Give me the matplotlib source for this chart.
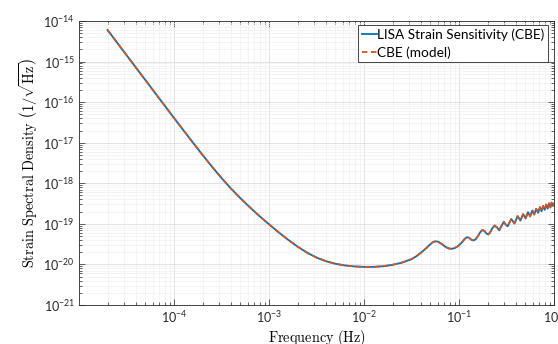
import numpy as np
import matplotlib
matplotlib.use("Agg")
import matplotlib.pyplot as plt
from matplotlib.ticker import LogLocator, NullFormatter, FixedLocator

plt.rcParams['font.family'] = ['Lato', 'DejaVu Sans']
plt.rcParams['mathtext.fontset'] = 'custom'
plt.rcParams['mathtext.rm'] = 'Lato'
plt.rcParams['mathtext.it'] = 'Lato:italic'
plt.rcParams['mathtext.bf'] = 'Lato:bold'

# values (log10 of frequency in Hz, log10 of ASD in 1/sqrt(Hz))
log_freq = [-4.70, -4.60, -4.50, -4.40, -4.30, -4.20, -4.10, -4.00, -3.90, -3.80,
            -3.70, -3.60, -3.50, -3.40, -3.30, -3.20, -3.10, -3.00, -2.90, -2.80,
            -2.70, -2.60, -2.50, -2.40, -2.30, -2.20, -2.10, -2.00, -1.90, -1.80,
            -1.70, -1.60, -1.50, -1.45, -1.40, -1.35, -1.31, -1.28, -1.25, -1.22,
            -1.18, -1.14, -1.11, -1.08, -1.05, -1.01, -0.97, -0.94, -0.917, -0.895,
            -0.87, -0.848, -0.825, -0.80, -0.775, -0.752, -0.73, -0.71, -0.6925, -0.675,
            -0.65, -0.625, -0.60, -0.577, -0.553, -0.529, -0.508, -0.488, -0.450, -0.416,
            -0.383, -0.354, -0.325, -0.299, -0.274, -0.251, -0.228, -0.208, -0.187, -0.167,
            -0.149, -0.131, -0.115, -0.098, -0.0825, -0.067, -0.0526, -0.038, -0.0246, -0.011,
            0.0]
log_asd = [-14.22, -14.53, -14.84, -15.15, -15.46, -15.77, -16.08, -16.39, -16.695, -17.00,
           -17.30, -17.59, -17.87, -18.13, -18.37, -18.595, -18.81, -19.01, -19.205, -19.39,
           -19.56, -19.71, -19.83, -19.92, -19.985, -20.025, -20.05, -20.06, -20.06, -20.045,
           -20.01, -19.955, -19.87, -19.80, -19.71, -19.61, -19.52, -19.46, -19.43, -19.44,
           -19.50, -19.57, -19.605, -19.615, -19.60, -19.55, -19.46, -19.37, -19.33, -19.34,
           -19.39, -19.41, -19.38, -19.30, -19.20, -19.15, -19.18, -19.24, -19.26, -19.22,
           -19.11, -19.04, -19.09, -19.16, -19.05, -18.95, -19.02, -19.06, -18.88, -18.99,
           -18.81, -18.92, -18.76, -18.865, -18.71, -18.815, -18.67, -18.77, -18.63, -18.73,
           -18.59, -18.69, -18.56, -18.655, -18.525, -18.625, -18.495, -18.595, -18.475, -18.56,
           -18.50]

x_tick_values = [1e-4, 1e-3, 1e-2, 1e-1, 1e0]
y_limits = (1e-21, 1e-14)
x_limits = (1e-5, 1e0)
labels = ['LISA Strain Sensitivity (CBE)', 'CBE (model)']

freq = 10.0 ** np.array(log_freq)
asd = 10.0 ** np.array(log_asd)

fig = plt.figure(figsize=(5.58, 3.44), dpi=100)
ax = fig.add_axes([79 / 558, 1 - 305 / 344, (554 - 79) / 558, (305 - 21) / 344])

ax.plot(freq, asd, color='#0072BD', lw=1.3, label=labels[0])
ax.plot(freq, asd, color='#D95319', lw=1.3, ls='--', dashes=(3, 2), label=labels[1])

ax.set_xscale('log')
ax.set_yscale('log')
ax.set_xlim(*x_limits)
ax.set_ylim(*y_limits)
ax.xaxis.set_major_locator(FixedLocator(x_tick_values))
ax.xaxis.set_minor_locator(LogLocator(base=10, subs=np.arange(2, 10), numticks=20))
ax.yaxis.set_major_locator(LogLocator(base=10, numticks=20))
ax.yaxis.set_minor_locator(LogLocator(base=10, subs=np.arange(2, 10), numticks=20))
ax.xaxis.set_minor_formatter(NullFormatter())
ax.yaxis.set_minor_formatter(NullFormatter())

ax.set_axisbelow(True)
ax.grid(True, which='major', color='#dedede', lw=0.6)
ax.grid(True, which='minor', color='#f0f0f0', lw=0.5)

axcol = '#262626'
for s in ax.spines.values():
    s.set_color(axcol)
    s.set_linewidth(0.6)
ax.tick_params(which='both', direction='in', top=True, right=True, color=axcol,
               labelcolor=axcol, labelsize=9, width=0.5)
ax.tick_params(which='major', length=4, pad=3)
ax.tick_params(which='minor', length=2)

ax.set_xlabel(r'$\mathrm{Frequency\ (Hz)}$', fontsize=10.3, math_fontfamily='cm', labelpad=2)
ax.set_ylabel(r'$\mathrm{Strain\ Spectral\ Density}\ \left(1/\sqrt{\mathrm{Hz}}\right)$',
              fontsize=10.3, math_fontfamily='cm', labelpad=2)

leg = ax.legend(loc='upper right', bbox_to_anchor=(548 / 558, 1 - 25 / 344),
                bbox_transform=fig.transFigure, borderaxespad=0, fontsize=9.8,
                fancybox=False, framealpha=1, edgecolor=axcol, handlelength=1.1,
                handletextpad=0.05, borderpad=0.25, labelspacing=0.4)
leg.get_frame().set_linewidth(0.6)

fig.savefig('out.png', dpi=100)
